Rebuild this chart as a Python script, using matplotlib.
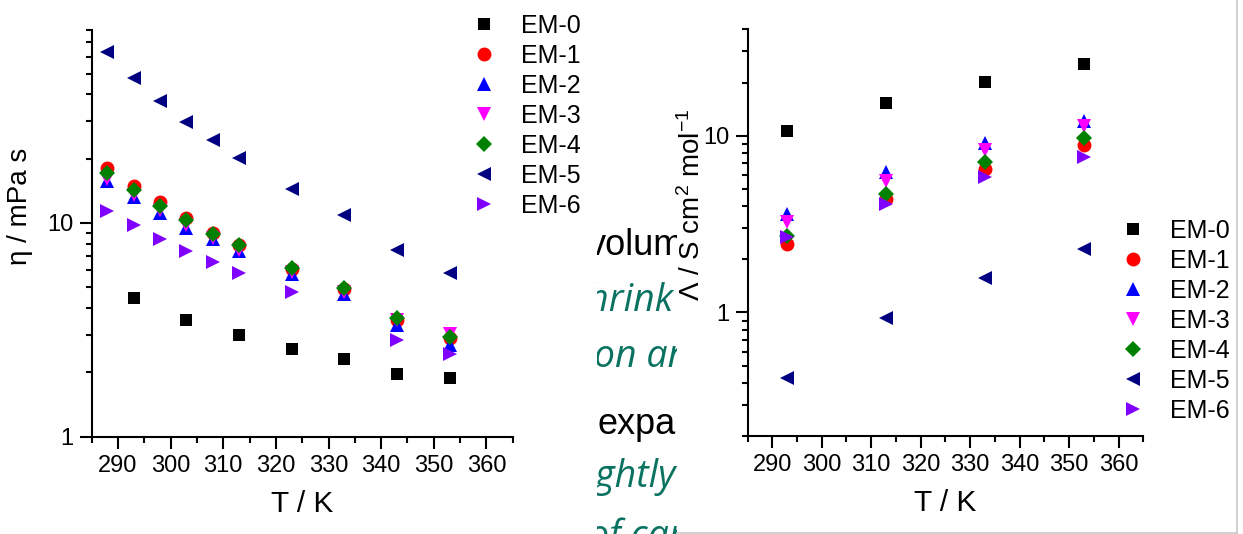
import matplotlib
matplotlib.use("Agg")
import matplotlib.pyplot as plt
import numpy as np
from matplotlib.ticker import MultipleLocator, LogLocator, NullFormatter, FixedLocator, FuncFormatter
from matplotlib.lines import Line2D

plt.rcParams['font.family'] = ['Liberation Sans', 'DejaVu Sans']
plt.rcParams['mathtext.fontset'] = 'custom'
plt.rcParams['mathtext.rm'] = 'Liberation Sans'
plt.rcParams['mathtext.default'] = 'regular'

nan = np.nan
labels = ['EM-0', 'EM-1', 'EM-2', 'EM-3', 'EM-4', 'EM-5', 'EM-6']
colors = ['#000000', '#ff0000', '#0000ff', '#ff00ff', '#008000', '#000080', '#8000ff']
markers = ['s', 'o', '^', 'v', 'D', '<', '>']
msizes = [9, 10, 10.5, 10.5, 8, 10.5, 10.5]

# viscosity (left)
T_eta = [288, 293, 298, 303, 308, 313, 323, 333, 343, 353]
eta_em0 = [nan, 4.45, nan, 3.51, nan, 2.99, 2.58, 2.32, 1.97, 1.88]
eta_em1 = [18.0, 14.9, 12.5, 10.5, 9.0, 7.9, 6.1, 4.9, 3.5, 2.9]
eta_em2 = [15.7, 13.2, 11.1, 9.5, 8.4, 7.4, 5.8, 4.65, 3.34, 2.69]
eta_em3 = [16.1, 13.5, 11.5, 9.8, 8.5, 7.45, 5.9, 4.73, 3.52, 3.04]
eta_em4 = [17.1, 14.3, 12.0, 10.3, 8.9, 7.87, 6.19, 4.95, 3.59, 2.93]
eta_em5 = [63.1, 47.9, 37.3, 29.6, 24.4, 20.2, 14.5, 10.9, 7.5, 5.86]
eta_em6 = [11.4, 9.78, 8.44, 7.42, 6.55, 5.84, 4.73, nan, 2.84, 2.44]

# molar conductivity (right)
T_lam = [293, 313, 333, 353]
lam_em0 = [10.6, 15.3, 20.1, 25.3]
lam_em1 = [2.43, 4.37, 6.5, 8.87]
lam_em2 = [3.61, 6.23, 9.07, 12.1]
lam_em3 = [3.25, 5.57, 8.3, 11.3]
lam_em4 = [2.71, 4.71, 7.11, 9.69]
lam_em5 = [0.424, 0.93, 1.56, 2.28]
lam_em6 = [2.66, 4.09, 5.83, 7.6]

eta_all = [eta_em0, eta_em1, eta_em2, eta_em3, eta_em4, eta_em5, eta_em6]
lam_all = [lam_em0, lam_em1, lam_em2, lam_em3, lam_em4, lam_em5, lam_em6]

W, H = 1243, 534
fig = plt.figure(figsize=(W / 100, H / 100), dpi=100)

def px_axes(x0, x1, ytop, ybot):
    return fig.add_axes([x0 / W, 1 - ybot / H, (x1 - x0) / W, (ybot - ytop) / H])

# slide text peeking out between the two charts
tx = px_axes(597, 677, 0, H)
tx.set_xlim(597, 677)
tx.set_ylim(H, 0)
tx.axis('off')
teal = '#0a7261'
it = dict(color=teal, family='Open Sans', style='italic', fontsize=27, va='baseline')
bl = dict(color='black', fontsize=26, va='baseline')
texts = [
    tx.text(588, 255, 'volume', **bl),
    tx.text(674, 311, 'shrink', ha='right', **it),
    tx.text(572, 367, 'tion and', **it),
    tx.text(675.5, 434, 'expa', ha='right', **bl),
    tx.text(561, 487, 'slightly', **it),
    tx.text(588, 547, 'of carbon', **it),
]
for t in texts:
    t.set_clip_on(True)
    t.set_clip_box(tx.bbox)

# frame of right picture
fig.add_artist(Line2D([677 / W, 1237 / W], [1 - 532.5 / H] * 2, color='#c8c8c8', lw=1.2))
fig.add_artist(Line2D([1237 / W] * 2, [1 - 532.5 / H, 1], color='#c8c8c8', lw=1.2))

ax1 = px_axes(91.7, 512.7, 30, 436.7)
ax2 = px_axes(747.5, 1143.3, 29.3, 436)

for ax, T, data in [(ax1, T_eta, eta_all), (ax2, T_lam, lam_all)]:
    for i in range(7):
        ax.plot(T, data[i], linestyle='none', marker=markers[i], color=colors[i],
                markersize=msizes[i], markeredgewidth=0, label=labels[i])
    ax.set_yscale('log')
    ax.set_xlim(285, 365)
    ax.xaxis.set_major_locator(FixedLocator(range(290, 361, 10)))
    ax.xaxis.set_minor_locator(MultipleLocator(5))
    ax.yaxis.set_major_locator(LogLocator(base=10))
    ax.yaxis.set_minor_locator(LogLocator(base=10, subs=np.arange(2, 10)))
    ax.yaxis.set_minor_formatter(NullFormatter())
    ax.yaxis.set_major_formatter(FuncFormatter(lambda v, p: '%g' % v))
    for s in ['top', 'right']:
        ax.spines[s].set_visible(False)
    for s in ['left', 'bottom']:
        ax.spines[s].set_linewidth(1.5)
    ax.tick_params(which='major', direction='out', length=8.5, width=1.5, labelsize=17, pad=4.5)
    ax.tick_params(which='minor', direction='out', length=4, width=1.5)
    ax.set_xlabel('T / K', fontsize=21.5)
    ax.xaxis.set_label_coords(0.5, -0.13)
    ax.xaxis.label.set_va('top')

ax1.set_ylim(1, 80)
ax2.set_ylim(0.2, 40)

ax1.set_ylabel('η / mPa s', fontsize=20)
ax1.yaxis.set_label_coords(-0.14, 0.567)
ax2.set_ylabel('Λ / S cm$^{2}$ mol$^{-1}$', fontsize=20)
ax2.yaxis.set_label_coords(-0.105, 0.568)

fs = 18
ax1.legend(loc='upper left', bbox_to_anchor=(471 / W, 1 - 14 / H), bbox_transform=fig.transFigure,
           frameon=False, fontsize=fs, handlelength=1.0, handletextpad=1.0, labelspacing=0.24,
           borderpad=0, borderaxespad=0, numpoints=1)
ax2.legend(loc='upper left', bbox_to_anchor=(1120 / W, 1 - 219 / H), bbox_transform=fig.transFigure,
           frameon=False, fontsize=fs, handlelength=1.0, handletextpad=1.0, labelspacing=0.24,
           borderpad=0, borderaxespad=0, numpoints=1)

fig.savefig('out.png', dpi=100)
